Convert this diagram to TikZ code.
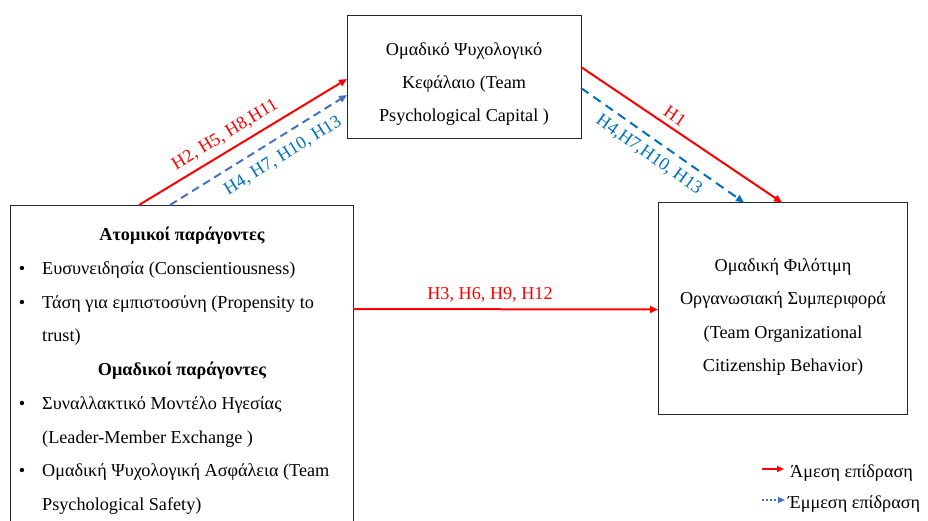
\documentclass[tikz,border=0pt]{standalone}
\usepackage{fontspec}
\setmainfont{Liberation Serif}
\usetikzlibrary{arrows.meta,calc}

\definecolor{direct}{HTML}{FF0000}
\definecolor{indirA}{HTML}{4472C4}
\definecolor{indirB}{HTML}{0070C0}
\definecolor{lbl}{HTML}{0070C0}

\newcommand{\bodysize}{\fontsize{18.2}{22}\selectfont}

\tikzset{
  box/.style={draw=black!85, line width=1pt, rectangle, inner sep=0pt, outer sep=0pt},
  txt/.style={anchor=base, inner sep=0pt, font=\bodysize},
  txtl/.style={txt, anchor=base west},
  directarrow/.style={draw=direct, line width=2pt, -{Triangle[length=8pt,width=7pt]}},
  indirarrow/.style={line width=2pt, dash pattern=on 8pt off 5pt, -{Triangle[length=8pt,width=7pt]}},
  hyp/.style={font=\bodysize, inner sep=0pt, anchor=center},
}

\begin{document}
\begin{tikzpicture}[x=1pt, y=-1pt]
\useasboundingbox (0,0) rectangle (928,520);
\clip (0,0) rectangle (928,520);

% the three construct boxes
\node[box, minimum width=234pt, minimum height=123pt] (PC) at (464,76.5) {};
\node[box, minimum width=343pt, minimum height=330pt] (F) at (181.5,370) {};
\node[box, minimum width=249pt, minimum height=212pt] (OCB) at (782.5,308.5) {};

% mediator
\node[txt] (pc1) at (464,55) {Ομαδικό Ψυχολογικό};
\node[txt] (pc2) at (464,88) {Κεφάλαιο (Team};
\node[txt] (pc3) at (464,121) {Psychological Capital )};

% outcome
\node[txt] (oc1) at (783,271) {Ομαδική Φιλότιμη};
\node[txt] (oc2) at (783,304) {Οργανωσιακή Συμπεριφορά};
\node[txt] (oc3) at (783,338) {(Team Organizational};
\node[txt] (oc4) at (783,371) {Citizenship Behavior)};

% antecedents
\node[txt, font=\bodysize\bfseries] (h1) at (182,240) {Ατομικοί παράγοντες};
\node[txt] (b1) at (22,274) {•};
\node[txtl] (f1) at (42,274) {Ευσυνειδησία (Conscientiousness)};
\node[txt] (b2) at (22,308) {•};
\node[txtl] (f2) at (42,308) {Τάση για εμπιστοσύνη (Propensity to};
\node[txtl] (f2b) at (42,341) {trust)};
\node[txt, font=\bodysize\bfseries] (h2) at (182,375) {Ομαδικοί παράγοντες};
\node[txt] (b3) at (22,409) {•};
\node[txtl] (f3) at (42,409) {Συναλλακτικό Μοντέλο Ηγεσίας};
\node[txtl] (f3b) at (42,443) {(Leader-Member Exchange )};
\node[txt] (b4) at (22,476) {•};
\node[txtl] (f4) at (42,476) {Ομαδική Ψυχολογική Ασφάλεια (Team};
\node[txtl] (f4b) at (42,510) {Psychological Safety)};

% connector end points on the box borders
\coordinate (s1) at ($(F.north west)+(129,0)$);
\coordinate (e1) at ($(PC.north west)+(0,64)$);
\coordinate (s2) at ($(F.north west)+(160,0)$);
\coordinate (e2) at ($(PC.north west)+(0,80)$);
\coordinate (s3) at ($(PC.north east)+(0,52)$);
\coordinate (e3) at ($(OCB.north west)+(124,0)$);
\coordinate (s4) at ($(PC.north east)+(0,73)$);
\coordinate (e4) at ($(OCB.north west)+(86,0)$);
\coordinate (s5) at ($(F.north east)+(0,104)$);
\coordinate (e5) at ($(OCB.north west)+(0,107)$);

% paths
\draw[directarrow] (s1) -- (e1);
\draw[indirarrow, draw=indirA] (s2) -- (e2);
\draw[directarrow] (s3) -- (e3);
\draw[indirarrow, draw=indirB, dash pattern=on 9pt off 6pt] (s4) -- (e4);
\draw[directarrow] (s5) -- (e5);

% hypothesis labels
\node[hyp, text=direct, rotate=31.2] (l1) at (225,135) {H2, H5, H8,H11};
\node[hyp, text=lbl, rotate=31.9] (l2) at (283,156) {H4, H7, H10, H13};
\node[hyp, text=direct, rotate=-34.2] (l3) at (675,116) {H1};
\node[hyp, text=lbl, rotate=-35.4] (l4) at (649,155) {H4,H7,H10, H13};
\node[hyp, text=direct] (l5) at (490,295) {H3, H6, H9, H12};

% legend
\coordinate (ga) at (762,469);
\coordinate (gb) at (784,469);
\coordinate (gc) at (762,500);
\coordinate (gd) at (785,500);
\draw[draw=direct, line width=2pt, -{Triangle[length=7pt,width=6pt]}] (ga) -- (gb);
\draw[draw=indirA, line width=2pt, dash pattern=on 2pt off 2pt, -{Triangle[length=7pt,width=6pt]}] (gc) -- (gd);
\node[txtl] (lg1) at (790,477) {Άμεση επίδραση};
\node[txtl] (lg2) at (788,508) {Έμμεση επίδραση};
\end{tikzpicture}
\end{document}
